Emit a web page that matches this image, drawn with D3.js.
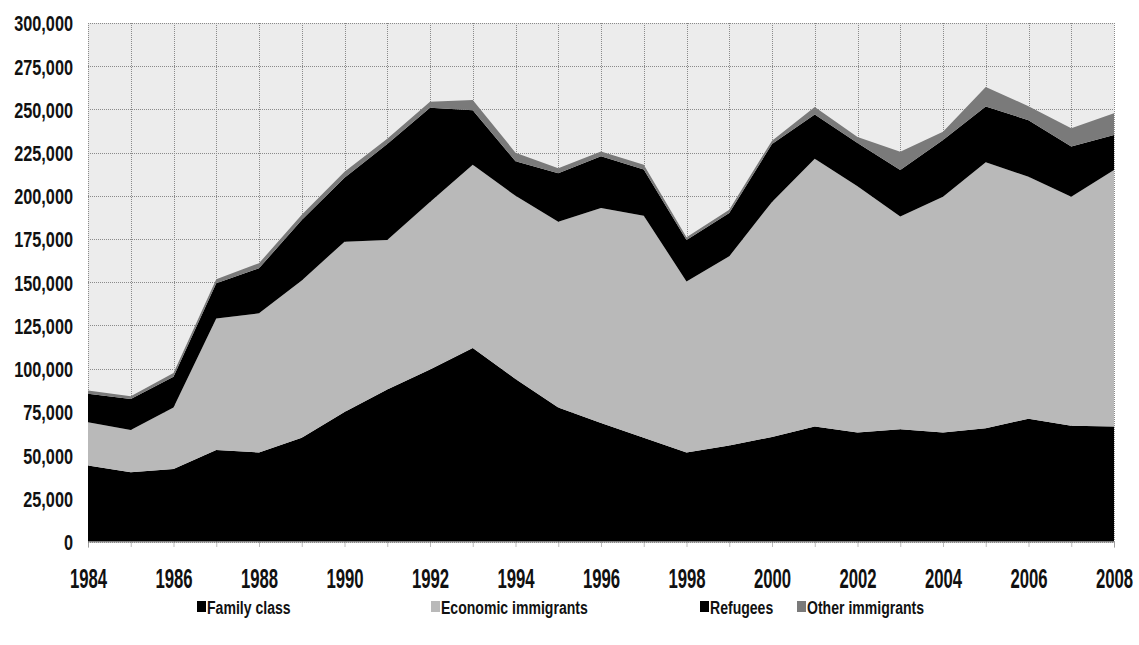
<!DOCTYPE html>
<html>
<head>
<meta charset="utf-8">
<script src="https://cdn.jsdelivr.net/npm/d3@7/dist/d3.min.js"></script>
<style>
  html, body { margin: 0; padding: 0; background: #ffffff; }
  svg { display: block; }
  .tick text, .legend text { font-family: "Liberation Sans", Arial, sans-serif; font-weight: bold; fill: #111; }
</style>
</head>
<body>
<svg id="chart" width="1139" height="645"></svg>
<script>
// Permanent residents admitted, by category, 1984-2008
const years = [1984, 1985, 1986, 1987, 1988, 1989, 1990, 1991, 1992, 1993, 1994, 1995, 1996,
               1997, 1998, 1999, 2000, 2001, 2002, 2003, 2004, 2005, 2006, 2007, 2008];
const familyClass = [44000, 40000, 42000, 53000, 51500, 60000, 75000, 88000, 99500, 112000, 94000, 77500, 68500,
                     60000, 51500, 55500, 60500, 66500, 63000, 65000, 63000, 65500, 71000, 67000, 66500];
const economicImmigrants = [25000, 24500, 35500, 76000, 80500, 91000, 98500, 86500, 97000, 106000, 106000, 107500, 124500,
                            128500, 99000, 109500, 136000, 155000, 142500, 123000, 136500, 154000, 140000, 132500, 148500];
const refugees = [16500, 18000, 17800, 20400, 26100, 35000, 37000, 55500, 54500, 31500, 20000, 28000, 29900,
                  26700, 23900, 25100, 33500, 25500, 25000, 27000, 32800, 32200, 32800, 29000, 20200];
const otherImmigrants = [1800, 1500, 2200, 2300, 2900, 3000, 3500, 3000, 3500, 6000, 5000, 3000, 2800,
                         2800, 1600, 1900, 1900, 4400, 3500, 10500, 4800, 11200, 8100, 10600, 12600];

const seriesNames = ["Family class", "Economic immigrants", "Refugees", "Other immigrants"];
const seriesColors = ["#000000", "#b9b9b9", "#000000", "#7a7a7a"];
const yTickValues = [0, 25000, 50000, 75000, 100000, 125000, 150000, 175000, 200000, 225000, 250000, 275000, 300000];
const xTickLabels = [1984, 1986, 1988, 1990, 1992, 1994, 1996, 1998, 2000, 2002, 2004, 2006, 2008];

const rows = years.map((yr, i) => ({
  year: yr,
  "Family class": familyClass[i],
  "Economic immigrants": economicImmigrants[i],
  "Refugees": refugees[i],
  "Other immigrants": otherImmigrants[i]
}));

const svg = d3.select("#chart");
const plot = { left: 88, right: 1114, top: 23, bottom: 541.5 };

const x = d3.scaleLinear().domain([years[0], years[years.length - 1]]).range([plot.left, plot.right]);
const y = d3.scaleLinear().domain([0, 300000]).range([plot.bottom, plot.top]);

// plot background
svg.append("rect")
  .attr("x", plot.left).attr("y", plot.top)
  .attr("width", plot.right - plot.left).attr("height", plot.bottom - plot.top)
  .attr("fill", "#ececec");

// gridlines
const grid = svg.append("g").attr("stroke", "#8a8a8a").attr("stroke-width", 1).attr("stroke-dasharray", "1,1");
grid.selectAll("line.h").data(yTickValues).join("line")
  .attr("class", "h")
  .attr("x1", plot.left).attr("x2", plot.right)
  .attr("y1", d => Math.round(y(d)) + 0.5).attr("y2", d => Math.round(y(d)) + 0.5);
grid.selectAll("line.v").data(years).join("line")
  .attr("class", "v")
  .attr("y1", plot.top).attr("y2", plot.bottom)
  .attr("x1", d => Math.round(x(d)) + 0.5).attr("x2", d => Math.round(x(d)) + 0.5);

// stacked areas
const stack = d3.stack().keys(seriesNames);
const layers = stack(rows);
const area = d3.area()
  .x(d => x(d.data.year))
  .y0(d => y(d[0]))
  .y1(d => y(d[1]))
  .curve(d3.curveLinear);

svg.append("g").selectAll("path").data(layers).join("path")
  .attr("d", area)
  .attr("fill", (d, i) => seriesColors[i]);

// y axis (narrow lettering)
const yAxis = svg.append("g")
  .attr("transform", `translate(${plot.left},0)`)
  .call(d3.axisLeft(y).tickValues(yTickValues).tickFormat(d3.format(",")).tickSize(0));
yAxis.select(".domain").remove();
yAxis.selectAll("text")
  .attr("x", 0).attr("dy", "0.36em")
  .attr("font-size", 22)
  .attr("transform", "translate(-15,0) scale(0.74,1)");

// x axis
const xAxis = svg.append("g")
  .attr("transform", `translate(0,${plot.bottom})`)
  .call(d3.axisBottom(x).tickValues(years)
    .tickFormat(d => xTickLabels.includes(d) ? String(d) : "")
    .tickSize(6));
xAxis.select(".domain").attr("stroke", "#8a8a8a").attr("stroke-dasharray", "1,1");
xAxis.selectAll(".tick line").attr("stroke", "#777").attr("stroke-dasharray", "1,1");
xAxis.selectAll("text")
  .attr("y", 0).attr("dy", 0)
  .attr("font-size", 27)
  .attr("transform", "translate(0,46.5) scale(0.62,1)");

// legend
const legendItems = [
  { name: "Family class", color: seriesColors[0], x: 197 },
  { name: "Economic immigrants", color: seriesColors[1], x: 431 },
  { name: "Refugees", color: seriesColors[2], x: 700 },
  { name: "Other immigrants", color: seriesColors[3], x: 797 }
];
const legend = svg.append("g").attr("class", "legend");
const li = legend.selectAll("g").data(legendItems).join("g")
  .attr("transform", d => `translate(${d.x},607)`);
li.append("rect").attr("x", 0).attr("y", -6).attr("width", 9).attr("height", 11).attr("fill", d => d.color);
li.append("text").attr("x", 0).attr("y", 0).attr("dy", "0.35em")
  .attr("font-size", 19)
  .attr("transform", "translate(10,0) scale(0.74,1)")
  .text(d => d.name);
</script>
</body>
</html>
